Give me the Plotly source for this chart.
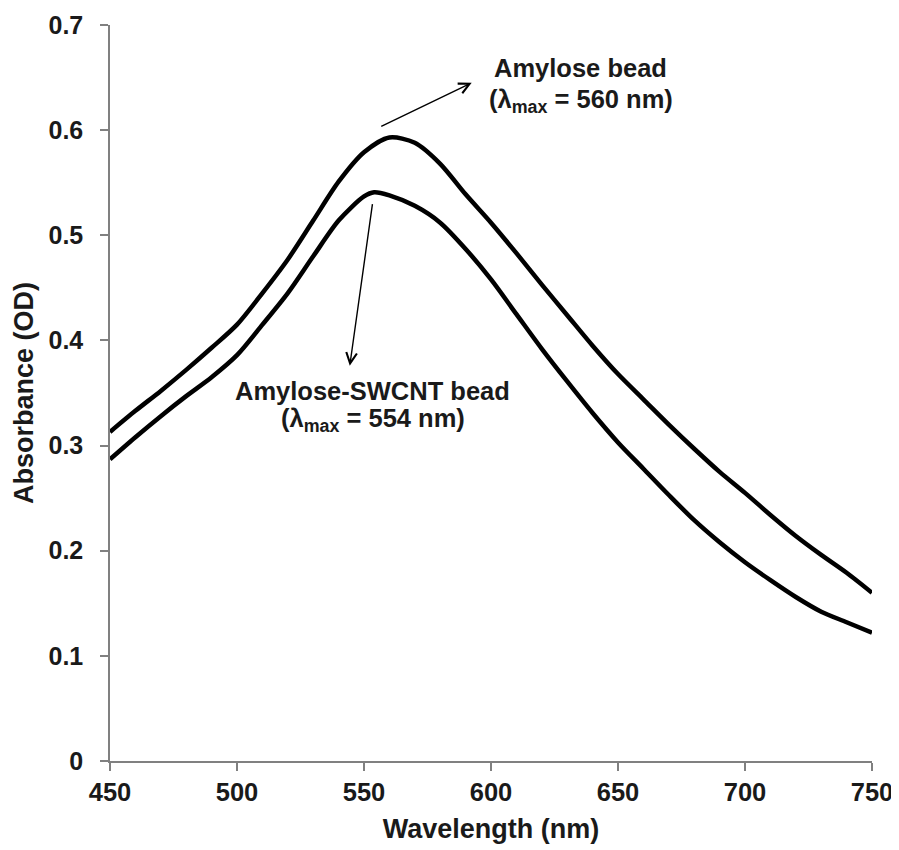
import plotly.graph_objects as go

wavelength_amylose = [450, 460, 470, 480, 490, 500, 510, 520, 530, 540, 550, 560,
                      570, 580, 590, 600, 610, 620, 630, 640, 650, 660, 670, 680,
                      690, 700, 710, 720, 730, 740, 750]
abs_amylose = [0.313, 0.333, 0.352, 0.372, 0.393, 0.415, 0.445, 0.477, 0.514, 0.551,
               0.579, 0.593, 0.588, 0.568, 0.539, 0.512, 0.483, 0.453, 0.424, 0.395,
               0.368, 0.344, 0.320, 0.297, 0.275, 0.255, 0.234, 0.214, 0.196, 0.179,
               0.160]

wavelength_swcnt = [450, 460, 470, 480, 490, 500, 510, 520, 530, 540, 550, 554, 560,
                    570, 580, 590, 600, 610, 620, 630, 640, 650, 660, 670, 680,
                    690, 700, 710, 720, 730, 740, 750]
abs_swcnt = [0.287, 0.308, 0.328, 0.347, 0.365, 0.386, 0.415, 0.445, 0.480, 0.514,
             0.537, 0.541, 0.538, 0.528, 0.512, 0.487, 0.458, 0.425, 0.392, 0.361,
             0.331, 0.303, 0.278, 0.253, 0.229, 0.208, 0.189, 0.172, 0.156, 0.142,
             0.132, 0.122]

x_ticks = [450, 500, 550, 600, 650, 700, 750]
y_ticks = [0, 0.1, 0.2, 0.3, 0.4, 0.5, 0.6, 0.7]
y_ticktext = ["0", "0.1", "0.2", "0.3", "0.4", "0.5", "0.6", "0.7"]

FONT = "Liberation Sans, Arial, sans-serif"
TXT = "#1a1a1a"

fig = go.Figure()
fig.add_trace(go.Scatter(x=wavelength_amylose, y=abs_amylose, mode="lines",
                         line=dict(color="black", width=4.5, shape="spline", smoothing=0.8),
                         name="Amylose bead", showlegend=False))
fig.add_trace(go.Scatter(x=wavelength_swcnt, y=abs_swcnt, mode="lines",
                         line=dict(color="black", width=4.5, shape="spline", smoothing=0.8),
                         name="Amylose-SWCNT bead", showlegend=False))

# arrows
fig.add_annotation(x=592.4, y=0.645, ax=556.2, ay=0.603, xref="x", yref="y",
                   axref="x", ayref="y", text="", showarrow=True, arrowhead=5,
                   arrowsize=1.5, arrowwidth=1.4, arrowcolor="black")
fig.add_annotation(x=544.4, y=0.376, ax=553.4, ay=0.531, xref="x", yref="y",
                   axref="x", ayref="y", text="", showarrow=True, arrowhead=5,
                   arrowsize=1.5, arrowwidth=1.4, arrowcolor="black")

# labels
def lab(text, x, y):
    fig.add_annotation(x=x, y=y, xref="x", yref="y", text=text, showarrow=False,
                       xanchor="center", yanchor="middle",
                       font=dict(family=FONT, size=25.5, color=TXT))

lab("<b>Amylose bead</b>", 635.4, 0.659)
lab("<b>(λ<sub>max</sub> = 560 nm)</b>", 635.6, 0.628)
lab("<b>Amylose-SWCNT bead</b>", 553.4, 0.352)
lab("<b>(λ<sub>max</sub> = 554 nm)</b>", 553.4, 0.324)

# the page body adds an 8px offset, so the figure is sized/margined to compensate
fig.update_layout(
    width=891, height=842,
    margin=dict(l=102, r=27, t=17, b=89),
    paper_bgcolor="white", plot_bgcolor="white",
    font=dict(family=FONT, color=TXT),
)
fig.update_xaxes(range=[450, 750], tickvals=x_ticks, ticktext=[f"<b>{v}</b>" for v in x_ticks],
                 automargin=False,
                 showgrid=False, zeroline=False, showline=True, linecolor="#808080",
                 linewidth=1.5, ticks="outside", ticklen=8, tickcolor="#808080",
                 tickwidth=1.5, tickfont=dict(size=25.5, family=FONT, color=TXT),
                 title=dict(text="<b>Wavelength (nm)</b>", font=dict(size=27, family=FONT, color=TXT),
                            standoff=14))
fig.update_yaxes(range=[0, 0.7], tickvals=y_ticks, ticktext=[f"<b>{t}</b>" for t in y_ticktext],
                 automargin=False, ticklabelstandoff=12,
                 showgrid=False, zeroline=False, showline=True, linecolor="#808080",
                 linewidth=1.5, ticks="outside", ticklen=8, tickcolor="#808080",
                 tickwidth=1.5, tickfont=dict(size=25, family=FONT, color=TXT),
                 title=dict(text="<b>Absorbance (OD)</b>", font=dict(size=27, family=FONT, color=TXT),
                            standoff=7))

fig.write_html("out.html")
